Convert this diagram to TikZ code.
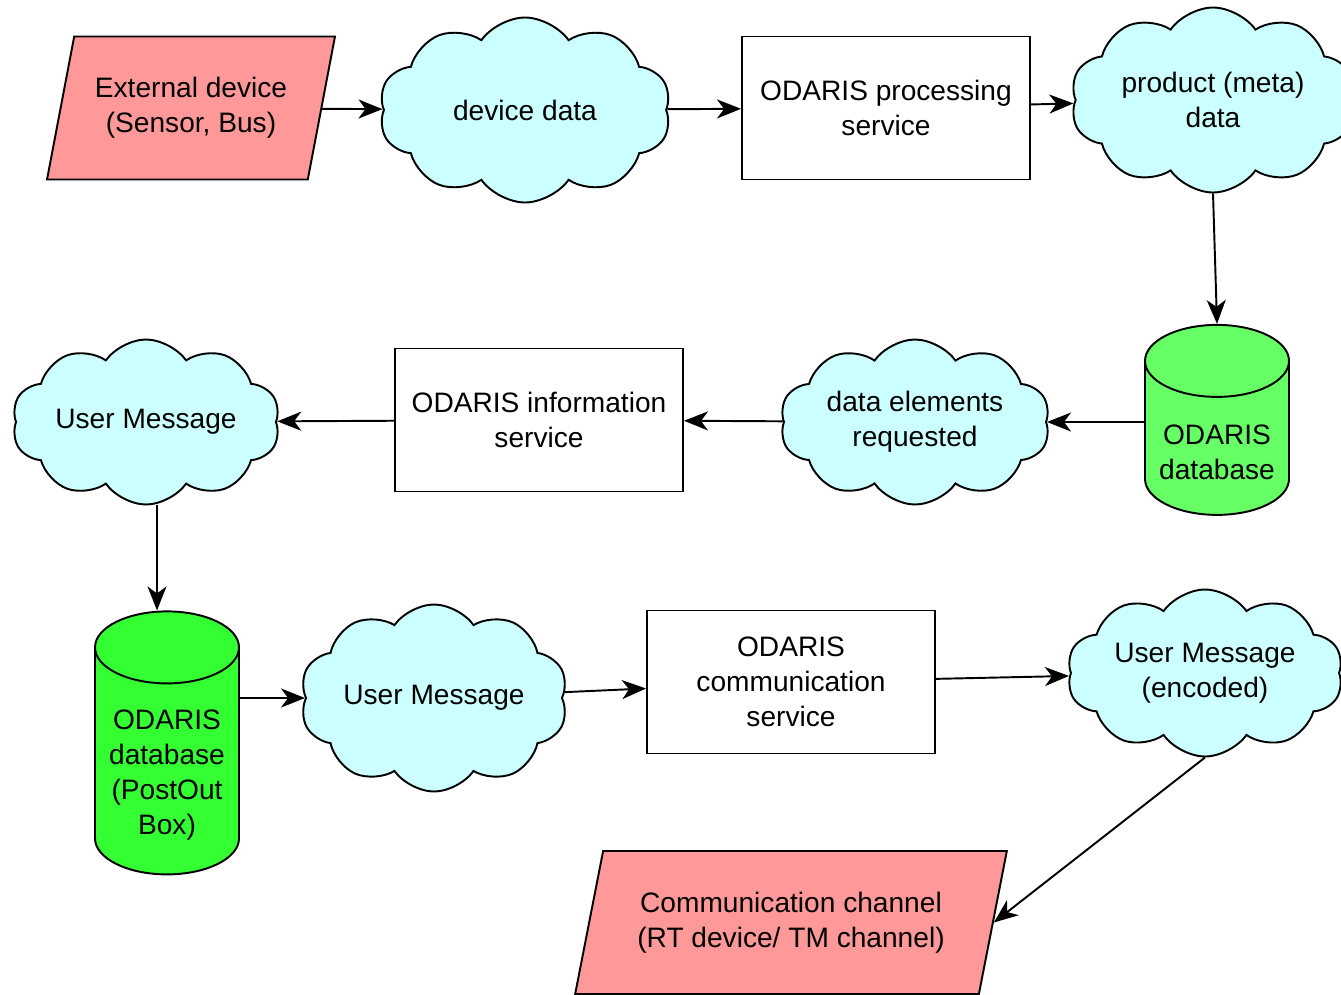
\documentclass[tikz,border=0pt]{standalone}
\usepackage{fontspec}
\setmainfont{Liberation Sans}
\usetikzlibrary{shapes.geometric,shapes.symbols,arrows.meta}
\definecolor{cloudfill}{HTML}{CCFFFF}
\definecolor{iofill}{HTML}{FF9999}
\definecolor{dbfill}{HTML}{66FF66}
\definecolor{boxfill}{HTML}{33FF33}

\begin{document}
\begin{tikzpicture}[
    every node/.style={align=center, line width=1.1pt, font=\fontsize{16}{20}\selectfont},
    procbox/.style={draw, rectangle, minimum width=5.76cm, minimum height=2.86cm},
    datacloud/.style={draw, cloud, cloud puffs=10, cloud puff arc=110, cloud ignores aspect, fill=cloudfill},
    iobox/.style={draw, trapezium, trapezium left angle=72, trapezium right angle=108, trapezium stretches=true, minimum height=2.86cm, fill=iofill},
    dbcyl/.style={draw, cylinder, shape border rotate=90, inner sep=0.5cm, aspect=1.44, minimum width=2.88cm},
    arrow/.style={-{Stealth[length=4.8mm, width=3.8mm, inset=1.4mm]}, line width=1.1pt}
]
\useasboundingbox (0,0) rectangle (26.82,-19.88);

% First row: from the device to the product data
\node[iobox, minimum width=5.76cm] (ext) at (3.82,-2.16) {External device\\(Sensor, Bus)};
\node[datacloud, minimum width=5.84cm, minimum height=3.7cm] (devdata) at (10.5,-2.2) {device data};
\node[procbox] (proc) at (17.72,-2.16) {ODARIS processing\\service};
\node[datacloud, minimum width=5.7cm, minimum height=3.7cm] (meta) at (24.26,-2.0) {product (meta)\\data};

% Second row: database back to the user message
\node[dbcyl, minimum height=3.8cm, fill=dbfill,
      label={[align=center]center:ODARIS\\database}] (db1) at (24.34,-9.04) {};
\node[datacloud, minimum width=5.2cm, minimum height=3.3cm] (dreq) at (18.3,-8.44) {data elements\\requested};
\node[procbox] (info) at (10.78,-8.4) {ODARIS information\\service};
\node[datacloud, minimum width=5.24cm, minimum height=3.3cm] (umsg1) at (2.92,-8.44) {User Message};

% Third row: out box, encoding and the channel
\node[dbcyl, minimum height=5.26cm, fill=boxfill,
      label={[align=center]center:ODARIS\\database\\(PostOut\\Box)}] (db2) at (3.34,-15.5) {};
\node[datacloud, minimum width=5.24cm, minimum height=3.74cm] (umsg2) at (8.68,-13.96) {User Message};
\node[procbox] (comm) at (15.82,-13.64) {ODARIS\\communication\\service};
\node[datacloud, minimum width=5.4cm, minimum height=3.34cm] (umsg3) at (24.1,-13.46) {User Message\\(encoded)};
\node[iobox, minimum width=8.64cm] (chan) at (15.82,-18.45) {Communication channel\\(RT device/ TM channel)};

% Connectors
\draw[arrow] (ext) -- (devdata);
\draw[arrow] (devdata) -- (proc);
\draw[arrow] (proc) -- (meta);
\draw[arrow] (meta.south) -- (db1.north);
\draw[arrow] (db1.west |- dreq) -- (dreq);
\draw[arrow] (dreq) -- (info);
\draw[arrow] (info) -- (umsg1);
\draw[arrow] ([xshift=-0.2cm]db2.north |- umsg1.south) -- ([xshift=-0.2cm]db2.north);
\draw[arrow] (db2.east |- umsg2) -- (umsg2);
\draw[arrow] (umsg2) -- (comm);
\draw[arrow] (comm) -- (umsg3);
\draw[arrow] (umsg3.south) -- (chan.east);

\end{tikzpicture}
\end{document}
